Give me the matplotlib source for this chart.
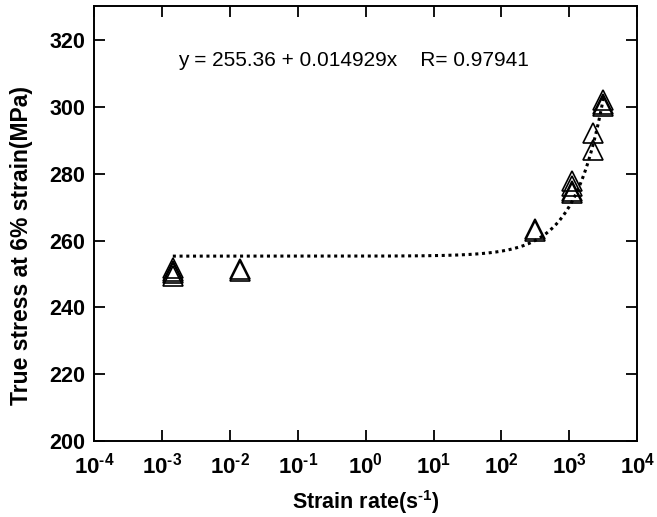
import numpy as np
import matplotlib
matplotlib.use("Agg")
import matplotlib.pyplot as plt
from matplotlib.ticker import LogLocator, NullLocator, FuncFormatter

plt.rcParams['font.family'] = ['Liberation Sans', 'DejaVu Sans']
plt.rcParams['mathtext.fontset'] = 'custom'
plt.rcParams['mathtext.rm'] = 'Liberation Sans:bold'
plt.rcParams['mathtext.it'] = 'Liberation Sans:bold'
plt.rcParams['mathtext.bf'] = 'Liberation Sans:bold'

# measured flow stress at 6% strain
strain_rate = [1.45e-3, 1.45e-3, 1.45e-3, 1.45e-3,
               1.4e-2, 1.4e-2,
               310, 310,
               1100, 1100, 1100, 1100,
               2200, 2200,
               3150, 3150, 3150]
stress = [249.5, 250.3, 251.0, 251.8,
          251.0, 251.4,
          263.6, 263.0,
          278.0, 276.3, 275.0, 274.2,
          292.2, 287.0,
          302.1, 301.0, 300.3]

# linear fit  y = a + b*x
fit_a = 255.36
fit_b = 0.014929
fit_r = 0.97941
fit_range = (1.45e-3, 3190)

yticks = [200, 220, 240, 260, 280, 300, 320]

fig = plt.figure(figsize=(6.57, 5.17), dpi=100)
ax = fig.add_axes([0.143, 0.147, 0.827, 0.841])

xf = np.logspace(np.log10(fit_range[0]), np.log10(fit_range[1]), 400)
ax.plot(xf, fit_a + fit_b * xf, color='black', linestyle=(0, (1, 1.2)), lw=2.2)

ax.plot(strain_rate, stress, linestyle='none', marker='^', ms=15,
        mfc='none', mec='black', mew=1.2)

ax.set_xscale('log')
ax.set_xlim(1e-4, 1e4)
ax.set_ylim(200, 330.2)
ax.xaxis.set_major_locator(LogLocator(base=10, numticks=20))
ax.xaxis.set_minor_locator(NullLocator())
ax.xaxis.set_major_formatter(
    FuncFormatter(lambda v, pos: r'10$^{\text{%d}}$' % round(np.log10(v))))
ax.set_yticks(yticks)

ax.tick_params(direction='in', length=8, width=1.3, top=True, right=True,
               labelsize=15.5)
ax.tick_params(axis='x', labelsize=16, pad=8)
ax.tick_params(axis='y', pad=6)
for lab in ax.get_xticklabels() + ax.get_yticklabels():
    lab.set_fontweight('bold')
for sp in ax.spines.values():
    sp.set_linewidth(1.4)

ax.set_xlabel('Strain rate(s$^{\\text{-1}}$)', fontsize=15.5, fontweight='bold')
ax.xaxis.set_label_coords(0.5, -0.108)
ax.set_ylabel('True stress at 6% strain(MPa)', fontsize=16.5, fontweight='bold')
ax.yaxis.set_label_coords(-0.113, 0.45)

ax.text(0.155, 0.874, 'y = %.2f + %.6fx    R= %.5f' % (fit_a, fit_b, fit_r),
        transform=ax.transAxes, fontsize=15, ha='left', va='center')

fig.savefig('out.png', dpi=100)
